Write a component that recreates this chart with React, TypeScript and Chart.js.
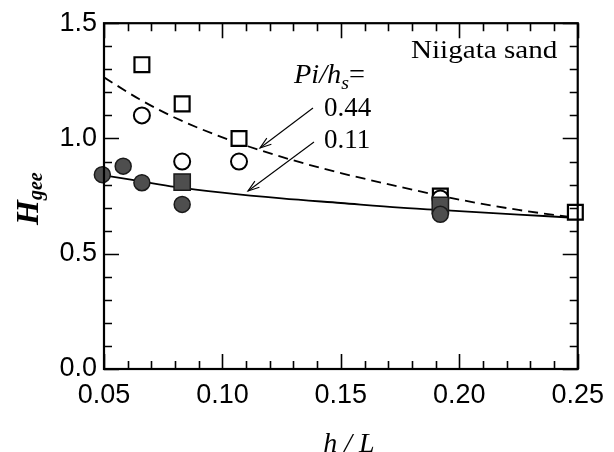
import { useEffect, useRef } from 'react';
import { Chart, registerables } from 'chart.js';
Chart.register(...registerables);

// ---- data ----
const xTickValues = [0.05, 0.1, 0.15, 0.2, 0.25];
const yTickValues = [0, 0.5, 1.0, 1.5];

const openSquareX = [0.066, 0.083, 0.107, 0.192, 0.249];
const openSquareY = [1.32, 1.15, 1.0, 0.75, 0.68];

const openCircleX = [0.066, 0.083, 0.107, 0.192];
const openCircleY = [1.1, 0.9, 0.9, 0.74];

const filledCircleX = [0.0493, 0.0581, 0.066, 0.083, 0.192];
const filledCircleY = [0.843, 0.88, 0.808, 0.714, 0.671];

const filledSquareX = [0.083, 0.192];
const filledSquareY = [0.811, 0.71];

const dashedCurveX = [0.05, 0.065, 0.08, 0.1, 0.125, 0.15, 0.175, 0.2, 0.225, 0.25];
const dashedCurveY = [1.265, 1.17, 1.09, 1.005, 0.92, 0.85, 0.79, 0.735, 0.69, 0.655];

const solidCurveX = [0.05, 0.065, 0.08, 0.1, 0.125, 0.15, 0.175, 0.2, 0.225, 0.25];
const solidCurveY = [0.84, 0.815, 0.79, 0.765, 0.74, 0.72, 0.7, 0.685, 0.67, 0.655];

const toPts = (xs: number[], ys: number[]) => xs.map((x, i) => ({ x, y: ys[i] }));

const SERIF = '"Liberation Serif", "Times New Roman", serif';
const SANS = '"Liberation Sans", Arial, sans-serif';

function stretchedText(ctx: CanvasRenderingContext2D, text: string, x: number, y: number, font: string, sx = 1) {
  ctx.save();
  ctx.font = font;
  ctx.textAlign = 'left';
  ctx.textBaseline = 'alphabetic';
  ctx.translate(x, y);
  ctx.scale(sx, 1);
  ctx.fillText(text, 0, 0);
  const w = ctx.measureText(text).width * sx;
  ctx.restore();
  return w;
}

function arrow(ctx: CanvasRenderingContext2D, x1: number, y1: number, x2: number, y2: number) {
  ctx.save();
  ctx.strokeStyle = '#000';
  ctx.lineWidth = 1.1;
  ctx.beginPath();
  ctx.moveTo(x1, y1);
  ctx.lineTo(x2, y2);
  ctx.stroke();
  const a = Math.atan2(y2 - y1, x2 - x1);
  const len = 12;
  const spread = 0.32;
  ctx.beginPath();
  ctx.moveTo(x2 - len * Math.cos(a - spread), y2 - len * Math.sin(a - spread));
  ctx.lineTo(x2, y2);
  ctx.lineTo(x2 - len * Math.cos(a + spread), y2 - len * Math.sin(a + spread));
  ctx.stroke();
  ctx.restore();
}

const framePlugin = {
  id: 'frame',
  afterDraw(chart: any) {
    const ctx: CanvasRenderingContext2D = chart.ctx;
    const { left, right, top, bottom } = chart.chartArea;
    const xs = chart.scales.x;
    const ys = chart.scales.y;
    ctx.save();
    ctx.strokeStyle = '#000';
    ctx.fillStyle = '#000';
    ctx.lineWidth = 2.2;
    ctx.strokeRect(left, top, right - left, bottom - top);
    ctx.lineWidth = 1.6;
    ctx.beginPath();
    for (let i = 5; i <= 25; i++) {
      const px = Math.round(xs.getPixelForValue(i / 100)) + 0.5;
      const L = i % 5 === 0 ? 15 : 8;
      ctx.moveTo(px, bottom);
      ctx.lineTo(px, bottom - L);
      ctx.moveTo(px, top);
      ctx.lineTo(px, top + L);
    }
    for (let i = 0; i <= 15; i++) {
      const py = Math.round(ys.getPixelForValue(i / 10)) + 0.5;
      const L = i % 5 === 0 ? 15 : 8;
      ctx.moveTo(left, py);
      ctx.lineTo(left + L, py);
      ctx.moveTo(right, py);
      ctx.lineTo(right - L, py);
    }
    ctx.stroke();

    // Annotation texts
    stretchedText(ctx, 'Niigata sand', 411, 58, `26px ${SERIF}`, 1.12);

    let x = 294;
    x += stretchedText(ctx, 'Pi/h', x, 83, `italic 27px ${SERIF}`, 1.05);
    x += stretchedText(ctx, 's', x, 89, `italic 19px ${SERIF}`, 1.05);
    stretchedText(ctx, '=', x, 83, `27px ${SERIF}`, 1.05);

    stretchedText(ctx, '0.44', 324, 116, `27px ${SERIF}`);
    stretchedText(ctx, '0.11', 324, 148, `27px ${SERIF}`);

    arrow(ctx, 313, 108, 260, 148);
    arrow(ctx, 314, 142, 248, 191);

    // y axis title H_gee (rotated)
    ctx.save();
    ctx.translate(38, 225);
    ctx.rotate(-Math.PI / 2);
    let tx = 0;
    tx += stretchedText(ctx, 'H', tx, 0, `bold italic 32px ${SERIF}`);
    stretchedText(ctx, 'gee', tx, 4, `bold italic 20px ${SERIF}`);
    ctx.restore();

    // x axis title
    ctx.save();
    ctx.font = `italic 28px ${SERIF}`;
    ctx.textAlign = 'center';
    ctx.textBaseline = 'alphabetic';
    ctx.fillText('h / L', 349, 452);
    ctx.restore();

    ctx.restore();
  },
};

export default function App() {
  const ref = useRef<HTMLCanvasElement>(null);
  useEffect(() => {
    const canvas = ref.current!;
    const filled = '#4e4e4e';
    const chart = new Chart(canvas, {
      type: 'scatter',
      data: {
        datasets: [
          {
            label: 'filled circles',
            data: toPts(filledCircleX, filledCircleY),
            pointStyle: 'circle',
            pointRadius: 8,
            backgroundColor: filled,
            borderColor: '#1a1a1a',
            borderWidth: 1.5,
            order: 0,
            clip: false,
          },
          {
            label: 'filled squares',
            data: toPts(filledSquareX, filledSquareY),
            pointStyle: 'rect',
            pointRadius: 11.5,
            backgroundColor: filled,
            borderColor: '#1a1a1a',
            borderWidth: 1.5,
            order: 1,
            clip: false,
          },
          {
            label: 'open circles',
            data: toPts(openCircleX, openCircleY),
            pointStyle: 'circle',
            pointRadius: 8,
            backgroundColor: '#fff',
            borderColor: '#000',
            borderWidth: 2,
            order: 2,
            clip: false,
          },
          {
            label: 'open squares',
            data: toPts(openSquareX, openSquareY),
            pointStyle: 'rect',
            pointRadius: 10.5,
            backgroundColor: '#fff',
            borderColor: '#000',
            borderWidth: 2.2,
            order: 3,
            clip: false,
          },
          {
            label: 'Pi/hs=0.44',
            type: 'line',
            data: toPts(dashedCurveX, dashedCurveY),
            showLine: true,
            pointRadius: 0,
            borderColor: '#000',
            borderWidth: 1.8,
            borderDash: [10, 6],
            tension: 0.4,
            cubicInterpolationMode: 'monotone',
            fill: false,
            order: 4,
          },
          {
            label: 'Pi/hs=0.11',
            type: 'line',
            data: toPts(solidCurveX, solidCurveY),
            showLine: true,
            pointRadius: 0,
            borderColor: '#000',
            borderWidth: 1.8,
            tension: 0.4,
            cubicInterpolationMode: 'monotone',
            fill: false,
            order: 5,
          },
        ] as any,
      },
      options: {
        responsive: false,
        animation: false,
        devicePixelRatio: 1,
        layout: { padding: { top: 22, right: 36, left: 0, bottom: 0 } },
        plugins: { legend: { display: false }, tooltip: { enabled: false }, title: { display: false } },
        scales: {
          x: {
            type: 'linear',
            min: 0.05,
            max: 0.25,
            border: { display: false },
            grid: { display: false, drawTicks: false },
            afterBuildTicks: (s: any) => {
              s.ticks = xTickValues.map((v) => ({ value: v }));
            },
            afterFit: (s: any) => {
              s.height = 83;
            },
            ticks: {
              padding: 10,
              color: '#000',
              font: { family: SANS, size: 27 },
              maxRotation: 0,
              autoSkip: false,
              callback: (v: any) => Number(v).toFixed(2),
            },
          },
          y: {
            type: 'linear',
            min: 0,
            max: 1.5,
            border: { display: false },
            grid: { display: false, drawTicks: false },
            afterBuildTicks: (s: any) => {
              s.ticks = yTickValues.map((v) => ({ value: v }));
            },
            afterFit: (s: any) => {
              s.width = 104;
            },
            ticks: {
              padding: 7,
              color: '#000',
              font: { family: SANS, size: 27 },
              autoSkip: false,
              callback: (v: any) => Number(v).toFixed(1),
            },
          },
        },
      } as any,
      plugins: [framePlugin],
    });
    return () => chart.destroy();
  }, []);
  return (
    <canvas
      ref={ref}
      width={614}
      height={452}
      style={{ position: 'fixed', left: 0, top: 0, width: 614, height: 452, background: '#fff' }}
    />
  );
}
